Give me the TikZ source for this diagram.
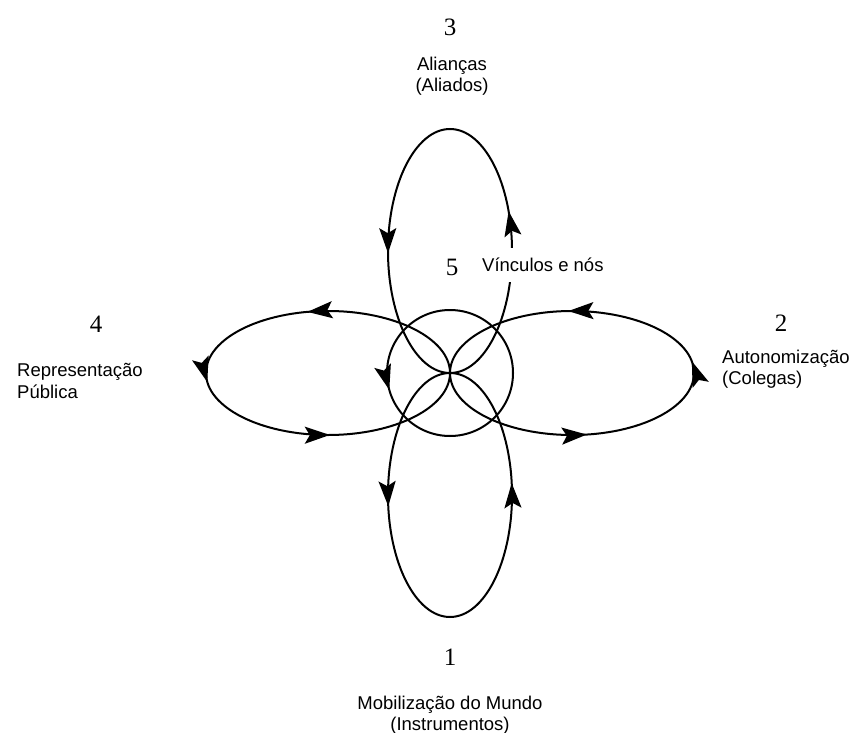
\documentclass[tikz,border=0pt]{standalone}
\usepackage{fontspec}
\setmainfont{Liberation Sans}
\newfontfamily\numfont{Liberation Serif}
\usetikzlibrary{arrows.meta,decorations.markings,calc}

\tikzset{
  flowtip/.tip={Stealth[length=25pt,width=17pt,inset=5pt]},
  loopline/.style={line width=2pt, black},
  flowmarks/.style={postaction={decorate,decoration={markings,#1}}},
  label/.style={font=\fontsize{18.5}{21.5}\selectfont, inner sep=0pt},
  num/.style={font=\numfont\fontsize{25}{25}\selectfont, inner sep=0pt},
}

\begin{document}
\begin{tikzpicture}[x=1pt,y=-1pt]
  \useasboundingbox (0,0) rectangle (854,733);
  \fill[white] (0,0) rectangle (854,733);

  \coordinate (O) at (450,373);

  % central circle
  \draw[loopline, flowmarks={mark=at position 215pt with {\arrow{flowtip}}}]
    ($(O)+(63,0)$) arc[start angle=0, end angle=-360, radius=63];

  % loop 3 (top)
  \draw[loopline, flowmarks={mark=at position 40pt with {\arrow{flowtip}},
                             mark=at position 299pt with {\arrow{flowtip}}}]
    (512,251) arc[start angle=0, end angle=-360, x radius=62, y radius=122];

  % loop 4 (left)
  \draw[loopline, flowmarks={mark=at position 169pt with {\arrow{flowtip}},
                             mark=at position 306pt with {\arrow{flowtip}},
                             mark=at position 447pt with {\arrow{flowtip}}}]
    (O) arc[start angle=0, end angle=-360, x radius=122, y radius=62];

  % loop 2 (right)
  \draw[loopline, flowmarks={mark=at position 12pt with {\arrow{flowtip}},
                             mark=at position 152pt with {\arrow{flowtip}},
                             mark=at position 460pt with {\arrow{flowtip}}}]
    (694,373) arc[start angle=0, end angle=-360, x radius=122, y radius=62];

  % loop 1 (bottom)
  \draw[loopline, flowmarks={mark=at position 12pt with {\arrow{flowtip}},
                             mark=at position 308pt with {\arrow{flowtip}}}]
    (512,495) arc[start angle=0, end angle=-360, x radius=62, y radius=122];

  % numbers
  \node[num] (n3) at (450,27) {3};
  \node[num] (n4) at (96,324) {4};
  \node[num] (n2) at (781,323) {2};
  \node[num] (n1) at (450,657) {1};
  \node[num] (n5) at (452,267) {5};

  % labels
  \node[label, align=center] (t3) at (452,76) {Alianças\\(Aliados)};
  \node[label, align=left, anchor=west] (t4) at (17,381) {Representação\\Pública};
  \node[label, align=left, anchor=west] (t2) at (722,369) {Autonomização\\(Colegas)};
  \node[label, align=center] (t1) at (450,715) {Mobilização do Mundo\\(Instrumentos)};
  \node[label, anchor=west, fill=white, minimum height=34pt, inner xsep=2pt] (t5) at (480,265) {Vínculos e nós};
\end{tikzpicture}
\end{document}
